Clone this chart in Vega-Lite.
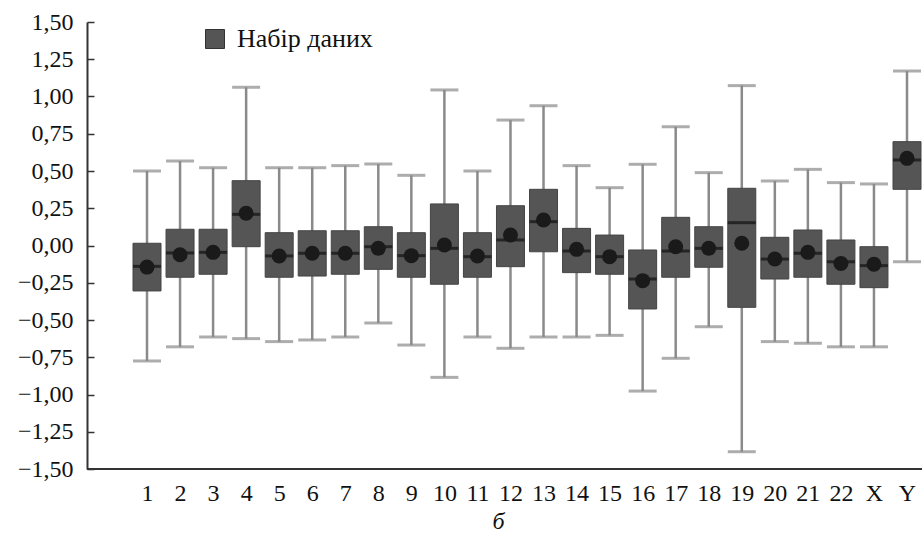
{
  "$schema": "https://vega.github.io/schema/vega-lite/v6.json",
  "autosize": "none",
  "width": 835,
  "height": 447,
  "padding": {"left": 87, "top": 22, "right": 0, "bottom": 65},
  "background": "white",
  "config": {
    "view": {"stroke": null},
    "font": "Liberation Serif",
    "axis": {
      "labelFont": "Liberation Serif",
      "labelFontSize": 24,
      "labelColor": "#111",
      "titleFont": "Liberation Serif",
      "domainColor": "#333",
      "domainWidth": 2,
      "grid": false
    },
    "legend": {
      "labelFont": "Liberation Serif",
      "labelFontSize": 26,
      "labelColor": "#111",
      "labelOffset": 9,
      "symbolType": "square",
      "symbolSize": 361,
      "symbolStrokeColor": "#333",
      "symbolStrokeWidth": 1,
      "padding": 0
    }
  },
  "resolve": {"axis": {"y": "independent"}},
  "data": {
    "values": [
      {"cat": "1", "lo": -0.775, "q1": -0.305, "med": -0.14, "q3": 0.015, "hi": 0.5, "mean": -0.145},
      {"cat": "2", "lo": -0.68, "q1": -0.213, "med": -0.05, "q3": 0.109, "hi": 0.567, "mean": -0.062},
      {"cat": "3", "lo": -0.614, "q1": -0.193, "med": -0.046, "q3": 0.109, "hi": 0.522, "mean": -0.046},
      {"cat": "4", "lo": -0.625, "q1": -0.008, "med": 0.209, "q3": 0.435, "hi": 1.062, "mean": 0.216},
      {"cat": "5", "lo": -0.645, "q1": -0.213, "med": -0.07, "q3": 0.086, "hi": 0.522, "mean": -0.07},
      {"cat": "6", "lo": -0.634, "q1": -0.205, "med": -0.052, "q3": 0.099, "hi": 0.522, "mean": -0.052},
      {"cat": "7", "lo": -0.614, "q1": -0.193, "med": -0.052, "q3": 0.099, "hi": 0.536, "mean": -0.052},
      {"cat": "8", "lo": -0.52, "q1": -0.16, "med": -0.008, "q3": 0.126, "hi": 0.547, "mean": -0.019},
      {"cat": "9", "lo": -0.668, "q1": -0.213, "med": -0.068, "q3": 0.086, "hi": 0.471, "mean": -0.068},
      {"cat": "10", "lo": -0.885, "q1": -0.26, "med": -0.019, "q3": 0.279, "hi": 1.044, "mean": 0.003},
      {"cat": "11", "lo": -0.614, "q1": -0.213, "med": -0.075, "q3": 0.086, "hi": 0.5, "mean": -0.07},
      {"cat": "12", "lo": -0.69, "q1": -0.142, "med": 0.037, "q3": 0.267, "hi": 0.842, "mean": 0.07},
      {"cat": "13", "lo": -0.614, "q1": -0.042, "med": 0.16, "q3": 0.377, "hi": 0.938, "mean": 0.171},
      {"cat": "14", "lo": -0.614, "q1": -0.182, "med": -0.037, "q3": 0.115, "hi": 0.536, "mean": -0.026},
      {"cat": "15", "lo": -0.603, "q1": -0.193, "med": -0.075, "q3": 0.07, "hi": 0.388, "mean": -0.075},
      {"cat": "16", "lo": -0.977, "q1": -0.426, "med": -0.225, "q3": -0.03, "hi": 0.545, "mean": -0.236},
      {"cat": "17", "lo": -0.757, "q1": -0.213, "med": -0.037, "q3": 0.189, "hi": 0.797, "mean": -0.008},
      {"cat": "18", "lo": -0.545, "q1": -0.146, "med": -0.019, "q3": 0.126, "hi": 0.489, "mean": -0.019},
      {"cat": "19", "lo": -1.384, "q1": -0.415, "med": 0.153, "q3": 0.384, "hi": 1.073, "mean": 0.015},
      {"cat": "20", "lo": -0.645, "q1": -0.225, "med": -0.091, "q3": 0.055, "hi": 0.433, "mean": -0.091},
      {"cat": "21", "lo": -0.656, "q1": -0.213, "med": -0.052, "q3": 0.104, "hi": 0.511, "mean": -0.046},
      {"cat": "22", "lo": -0.68, "q1": -0.26, "med": -0.109, "q3": 0.037, "hi": 0.422, "mean": -0.12},
      {"cat": "X", "lo": -0.68, "q1": -0.283, "med": -0.135, "q3": -0.008, "hi": 0.413, "mean": -0.126},
      {"cat": "Y", "lo": -0.109, "q1": 0.377, "med": 0.574, "q3": 0.697, "hi": 1.171, "mean": 0.585}
    ]
  },
  "layer": [
    {
      "mark": {"type": "rule", "color": "#333", "strokeWidth": 2},
      "encoding": {
        "y": {
          "datum": -1.5,
          "type": "quantitative",
          "scale": {"domain": [-1.5, 1.5], "nice": false, "zero": false},
          "axis": {
            "title": null,
            "values": [-1.5, -1.25, -1, -0.75, -0.5, -0.25, 0, 0.25, 0.5, 0.75, 1, 1.25, 1.5],
            "labelExpr": "replace(format(datum.value, '.2f'), '.', ',')",
            "labelFont": "Liberation Serif",
            "labelFontSize": 24,
            "labelColor": "#111",
            "labelOverlap": false,
            "labelFlush": false,
            "tickSize": -7,
            "tickColor": "#333",
            "tickWidth": 1.5,
            "labelPadding": 21,
            "domainColor": "#333",
            "domainWidth": 2
          }
        }
      }
    },
    {
      "encoding": {
        "x": {
          "field": "cat",
          "type": "nominal",
          "sort": null,
          "scale": {"type": "point", "range": [60, 820], "padding": 0},
          "axis": {
            "title": "б",
            "titleFontSize": 24,
            "titleFontStyle": "italic",
            "titleFontWeight": "normal",
            "titleColor": "#111",
            "titleX": 411,
            "titlePadding": 4,
            "labelAngle": 0,
            "labelPadding": 12,
            "ticks": false,
            "domain": false
          }
        }
      },
      "layer": [
        {
          "mark": {"type": "rule", "color": "#8a8a8a", "strokeWidth": 2.5},
          "encoding": {
            "y": {"field": "lo", "type": "quantitative", "axis": null},
            "y2": {"field": "hi"}
          }
        },
        {
          "mark": {"type": "bar", "size": 28, "stroke": "#444", "strokeWidth": 1},
          "encoding": {
            "y": {"field": "q1", "type": "quantitative", "axis": null},
            "y2": {"field": "q3"},
            "color": {
              "datum": "Набір даних",
              "scale": {"range": ["#555555"]},
              "legend": {
                "title": null,
                "orient": "none",
                "legendX": 115,
                "legendY": 4,
                "labelFont": "Liberation Serif",
                "labelFontSize": 26,
                "labelOffset": 9
              }
            }
          }
        },
        {
          "mark": {"type": "tick", "color": "#8a8a8a", "thickness": 3, "size": 28},
          "encoding": {"y": {"field": "hi", "type": "quantitative", "axis": null}}
        },
        {
          "mark": {"type": "tick", "color": "#8a8a8a", "thickness": 3, "size": 28},
          "encoding": {"y": {"field": "lo", "type": "quantitative", "axis": null}}
        },
        {
          "mark": {"type": "tick", "color": "#111", "thickness": 3, "size": 28},
          "encoding": {"y": {"field": "med", "type": "quantitative", "axis": null}}
        },
        {
          "mark": {"type": "point", "filled": true, "color": "#1a1a1a", "size": 225, "opacity": 1},
          "encoding": {"y": {"field": "mean", "type": "quantitative", "axis": null}}
        }
      ]
    }
  ]
}
